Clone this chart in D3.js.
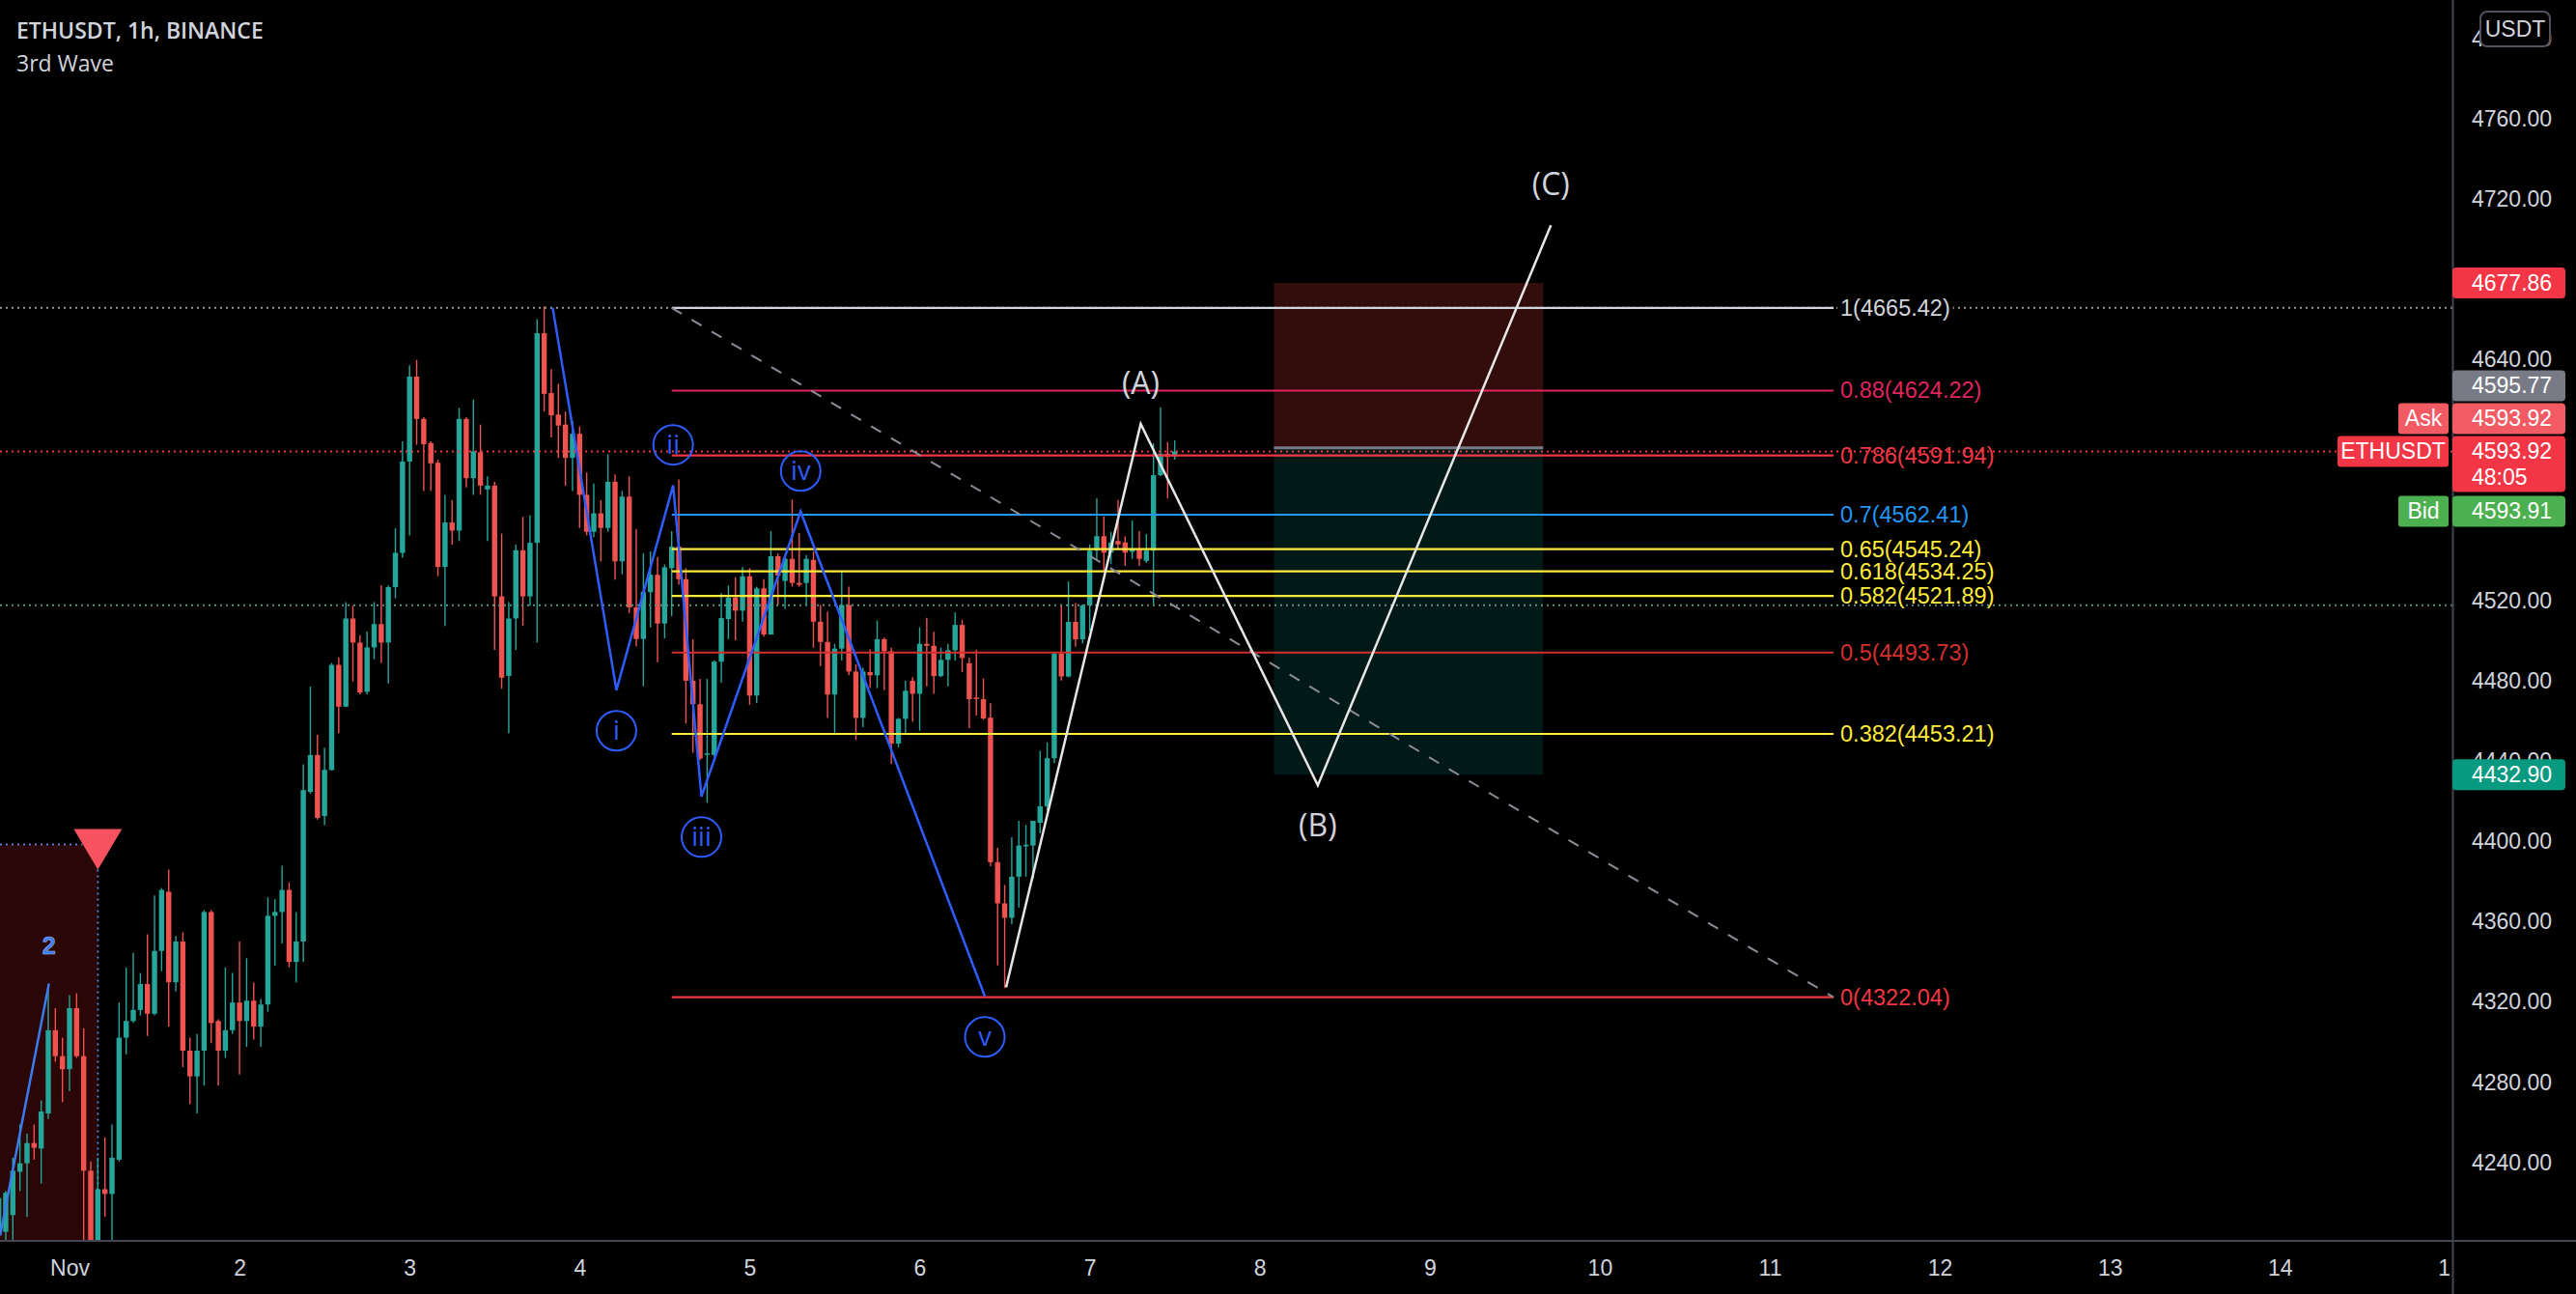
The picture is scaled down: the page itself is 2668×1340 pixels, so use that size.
<!DOCTYPE html>
<html><head><meta charset="utf-8">
<script src="https://cdn.jsdelivr.net/npm/d3@7"></script>
<style>html,body{margin:0;padding:0;background:#000;overflow:hidden}</style>
</head><body>
<svg id="chart" width="2668" height="1340"></svg>
<script>
// ---------- DATA ----------
const firstBar = "2021-10-31T14:00:00Z"; // hourly bars
const opens = [4206,4205.2,4213.5,4235.1,4239.3,4249.4,4246.7,4264.1,4305.6,4292.7,
4286.2,4316.6,4292.7,4235.6,4196,4226.4,4224.0,4241.1,4301.9,4310.2,
4315.7,4328.6,4313.8,4345.1,4374.6,4329.5,4349.8,4295.4,4282.6,4295.4,
4364.5,4310.2,4295.4,4305.6,4319.4,4310.2,4320.3,4307.4,4318.4,4362.6,
4364.5,4375.5,4339.6,4349.8,4424.3,4442.7,4412.3,4435.2,4487.6,4466.8,
4510.7,4498.7,4474.2,4496.3,4507.9,4498.7,4526.3,4543.4,4588.9,4631.2,
4610.1,4598.1,4588.3,4536.4,4558.5,4554.5,4610.1,4580.6,4593.5,4575.0,
4576.9,4521.7,4482.1,4510.7,4544.7,4521.7,4548.4,4652.8,4623.0,4612.3,
4607.3,4590.7,4602.7,4572.3,4553.9,4563.1,4555.8,4578.8,4539.2,4571.4,
4516.2,4500.5,4523.8,4532.5,4508.2,4535.8,4546.5,4530.3,4479.7,4468.0,
4442.8,4442.8,4489.2,4510.4,4521.1,4514.6,4531.7,4472.3,4525.7,4502.7,
4541.7,4529.4,4540.4,4528.4,4528.4,4539.9,4509.1,4499.0,4472.8,4495.7,
4517.4,4484.3,4461.2,4484.0,4482.4,4500.4,4494.4,4448.4,4460.7,4479.7,
4473.2,4498.1,4497.1,4482.0,4490.1,4494.9,4507.5,4488.4,4471.3,4470.5,
4461.3,4389.3,4368.8,4361.6,4382.1,4397.2,4397.6,4408.9,4417.1,4441.1,
4493.1,4481.8,4509.0,4500.3,4517.2,4544.5,4551.7,4543.5,4549.3,4548.6,
4543.9,4545.6,4539.4,4544.5,4582.1,4592.8,4591.5];
const highs = [4233,4225.5,4242.1,4258.6,4254.0,4258.6,4270.6,4328.6,4316.6,4301.9,
4323.1,4324.0,4306.5,4240.2,4242.1,4252.2,4258.6,4319.4,4336.9,4344.2,
4334.1,4353.4,4372.8,4376.4,4385.6,4352.5,4354.4,4301.9,4303.7,4365.4,
4365.4,4311.1,4336.9,4334.1,4349.8,4341.5,4329.5,4321.2,4371.8,4370.9,
4387.5,4379.2,4364.5,4438.1,4476.8,4452.8,4446.4,4488.6,4491.3,4518.9,
4517.1,4502.4,4504.2,4518.9,4527.2,4527.2,4555.7,4599.0,4636.8,4639.5,
4611.0,4599.0,4589.8,4572.3,4569.6,4615.6,4611.0,4619.8,4607.3,4581.5,
4578.8,4553.0,4518.9,4547.5,4561.3,4562.2,4659.8,4666.2,4634.9,4627.6,
4613.8,4609.1,4606.4,4583.4,4577.9,4569.6,4592.6,4582.5,4574.2,4581.5,
4555.2,4543.2,4544.1,4541.3,4537.6,4554.2,4580.0,4535.8,4500.4,4480.6,
4480.6,4489.8,4523.3,4527.1,4531.2,4536.3,4535.8,4526.6,4530.3,4554.2,
4543.2,4542.2,4569.9,4553.3,4542.2,4544.1,4517.4,4514.1,4498.1,4534.0,
4526.6,4487.9,4486.1,4495.3,4509.7,4501.2,4496.2,4461.2,4479.7,4481.5,
4506.3,4511.0,4504.1,4496.2,4498.1,4513.7,4510.0,4491.1,4495.2,4480.8,
4468.5,4396.5,4378.0,4401.7,4409.9,4407.8,4409.9,4444.8,4448.9,4494.2,
4517.8,4529.1,4518.4,4517.8,4547.6,4570.6,4561.6,4553.8,4569.8,4551.7,
4559.5,4554.2,4552.8,4598.0,4615.9,4598.6,4599.4];
const lows = [4198,4201,4201,4225.5,4212.6,4241.1,4229.2,4261.4,4289.9,4269.7,
4275.2,4291.8,4198,4188,4188,4212.6,4199,4240.2,4293.6,4309.2,
4312.9,4302.8,4313.0,4335.0,4307.4,4324.9,4287.2,4268.8,4264.1,4278.0,
4299.1,4278.0,4291.8,4303.7,4283.5,4297.3,4301.0,4297.3,4314.8,4337.8,
4348.8,4336.9,4329.5,4339.6,4423.4,4410.5,4407.7,4435.0,4453.6,4466.5,
4479.4,4472.9,4472.9,4490.4,4488.6,4478.4,4520.8,4541.0,4552.1,4597.2,
4574.2,4574.2,4531.8,4507.0,4547.5,4549.3,4576.0,4572.3,4572.3,4549.3,
4495.0,4475.7,4453.6,4495.0,4507.0,4517.1,4498.7,4613.8,4600.9,4590.7,
4576.9,4574.2,4555.8,4552.1,4551.2,4539.2,4553.9,4530.0,4532.7,4513.4,
4496.9,4477.0,4506.3,4488.9,4500.8,4511.9,4527.5,4458.5,4443.8,4440.1,
4418.9,4441.9,4478.7,4500.4,4499.9,4509.1,4467.7,4468.6,4501.7,4502.7,
4517.4,4515.5,4526.6,4526.6,4517.4,4496.2,4487.0,4461.2,4453.0,4489.8,
4482.4,4450.2,4456.6,4476.0,4476.0,4475.0,4438.2,4446.5,4453.0,4459.4,
4454.8,4476.9,4473.2,4481.5,4476.9,4489.8,4484.0,4456.1,4462.3,4460.3,
4387.3,4337.9,4326.6,4358.5,4366.7,4382.1,4381.1,4403.7,4415.0,4438.7,
4479.8,4481.4,4496.6,4498.3,4504.4,4540.4,4534.3,4537.7,4545.6,4536.9,
4540.4,4536.9,4538.4,4517.8,4581.5,4570.6,4589.8];
const closes = [4222,4224.6,4235.6,4239.3,4249.4,4247.0,4265.1,4305.6,4292.7,4286.2,
4316.6,4292.7,4235.6,4196,4226.4,4224.0,4242.1,4301.9,4310.2,4315.7,
4328.6,4313.8,4345.1,4375.5,4329.5,4349.8,4295.4,4282.6,4295.4,4364.5,
4309.2,4295.4,4305.6,4319.4,4310.2,4320.3,4307.4,4318.4,4362.6,4364.5,
4375.5,4339.6,4349.8,4425.2,4442.7,4411.4,4435.3,4487.6,4466.8,4510.7,
4498.7,4473.8,4496.3,4507.9,4498.7,4526.3,4543.4,4588.9,4631.2,4610.1,
4597.5,4588.0,4536.4,4558.5,4554.5,4610.1,4580.6,4594.0,4576.9,4576.9,
4521.7,4481.2,4510.7,4544.7,4521.7,4548.4,4652.8,4622.6,4611.9,4606.8,
4590.7,4602.7,4572.3,4553.9,4563.1,4555.8,4578.8,4539.2,4571.4,4516.2,
4500.5,4524.0,4532.5,4508.2,4536.2,4546.5,4530.3,4479.7,4468.0,4441.0,
4443.5,4489.2,4510.9,4521.1,4514.6,4531.7,4472.3,4525.7,4502.7,4541.7,
4532.1,4540.4,4528.4,4527.5,4540.4,4509.1,4499.0,4472.8,4495.7,4517.4,
4484.3,4461.2,4484.3,4482.4,4500.4,4494.4,4448.4,4460.7,4474.7,4473.2,
4498.1,4497.1,4482.0,4490.1,4494.9,4507.5,4491.0,4470.5,4470.9,4460.9,
4389.3,4368.8,4361.6,4382.1,4397.6,4398.0,4409.9,4417.1,4441.1,4493.1,
4481.8,4509.0,4500.3,4517.2,4544.5,4551.7,4543.5,4548.6,4547.6,4543.5,
4545.6,4540.4,4544.5,4582.1,4592.8,4591.2,4593.92];

// visible price-scale labels (the ones at 4560/4600/4680 are covered by tags)
const priceTicks = [4240,4280,4320,4360,4400,4440,4480,4520,4640,4720,4760,4800];
const dayTicks = ["2021-11-01","2021-11-02","2021-11-03","2021-11-04","2021-11-05","2021-11-06","2021-11-07","2021-11-08","2021-11-09","2021-11-10","2021-11-11","2021-11-12","2021-11-13","2021-11-14","2021-11-15"];
const dayLabels = ["Nov","2","3","4","5","6","7","8","9","10","11","12","13","14","15"];

const fibRatios = ["1","0.88","0.786","0.7","0.65","0.618","0.582","0.5","0.382","0"];
const fibPrices = [4665.42,4624.22,4591.94,4562.41,4545.24,4534.25,4521.89,4493.73,4453.21,4322.04];
const fibColors = ["#d1d4dc","#e0245e","#f23645","#2196f3","#ffeb3b","#ffeb3b","#ffeb3b","#d32f2f","#ffeb3b","#f23645"];
const fibStartHour = 85, fibEndHour = 249; // hours after Nov 1 00:00

// Elliott waves (hour offsets from Nov 1 00:00, price)
const minorHours  = [68.2, 77.2, 85.2, 89.2, 103.2, 129.2];
const minorPrices = [4665.4, 4475, 4577, 4422, 4564, 4322.5];
const minorLabels = ["", "i", "ii", "iii", "iv", "v"];
const minorSide   = [0, 1, -1, 1, -1, 1]; // 1 below, -1 above

const abcHours  = [132.2, 151.2, 176.2, 209.1];
const abcPrices = [4327, 4607.6, 4427.6, 4706.6];
const abcLabels = ["", "(A)", "(B)", "(C)"];
const abcSide   = [0, -1, 1, -1];

const w2Hours = [-9.8, -2.9], w2Prices = [4203.3, 4328.9];

// position tool (short)
const posStartHour = 170, posEndHour = 208;
const posEntry = 4595.77, posStop = 4677.86, posTarget = 4432.90;

// signal box
const sigHour = 4, sigPrice = 4398.1;

const lastPrice = 4593.92, bidPrice = 4593.91, prevLine = 4517.3;

// ---------- SCALES ----------
const W = 2668, H = 1340, plotR = 2540, plotB = 1284.5;
const base = Date.parse("2021-11-01T00:00:00Z");
const hd = h => new Date(base + h * 3600e3);
const x = d3.scaleUtc().domain([hd(-9.8127), hd(336.35)]).range([0, plotR]);
const y = d3.scaleLinear().domain([4200.9, 4818.8]).range([plotB, 0]);
const bars = opens.map((o, i) => ({
  t: new Date(Date.parse(firstBar) + i * 3600e3), o, h: highs[i], l: lows[i], c: closes[i]
}));

const svg = d3.select("#chart");
svg.append("rect").attr("width", W).attr("height", H).attr("fill", "#000");
const defs = svg.append("defs");
defs.append("clipPath").attr("id", "plot").append("rect").attr("width", plotR).attr("height", plotB);
defs.append("clipPath").attr("id", "xlab").append("rect").attr("width", 2537).attr("height", H);

const g = svg.append("g").attr("clip-path", "url(#plot)");
const font = "'Liberation Sans', Arial, sans-serif";

// signal box
g.append("rect").attr("x", 0).attr("y", y(sigPrice))
  .attr("width", x(hd(sigHour))).attr("height", plotB - y(sigPrice)).attr("fill", "#2a0606");
g.append("line").attr("x1", 0).attr("x2", x(hd(sigHour)) - 16).attr("y1", y(sigPrice)).attr("y2", y(sigPrice))
  .attr("stroke", "#5b7fd6").attr("stroke-width", 2).attr("stroke-dasharray", "2,4");
g.append("line").attr("x1", x(hd(sigHour))).attr("x2", x(hd(sigHour))).attr("y1", y(sigPrice) + 26).attr("y2", plotB)
  .attr("stroke", "#5b7fd6").attr("stroke-width", 2).attr("stroke-dasharray", "2,4");

// position boxes
const px0 = x(hd(posStartHour)), px1 = x(hd(posEndHour));
g.append("rect").attr("x", px0).attr("width", px1 - px0).attr("y", y(posStop)).attr("height", y(posEntry) - y(posStop)).attr("fill", "#330d0b");
g.append("rect").attr("x", px0).attr("width", px1 - px0).attr("y", y(posEntry)).attr("height", y(posTarget) - y(posEntry)).attr("fill", "#021a17");
g.append("line").attr("x1", px0).attr("x2", px1).attr("y1", y(posEntry)).attr("y2", y(posEntry)).attr("stroke", "#787b86").attr("stroke-width", 3);

// candles
const up = "#26a69a", dn = "#ef5350";
const cg = g.append("g");
cg.selectAll("line").data(bars).join("line")
  .attr("x1", d => x(d.t)).attr("x2", d => x(d.t)).attr("y1", d => y(d.h)).attr("y2", d => y(d.l))
  .attr("stroke", d => d.c >= d.o ? up : dn).attr("stroke-width", 1.4);
cg.selectAll("rect").data(bars).join("rect")
  .attr("x", d => x(d.t) - 2.7).attr("width", 5.4)
  .attr("y", d => y(Math.max(d.o, d.c)))
  .attr("height", d => Math.max(1.5, Math.abs(y(d.o) - y(d.c))))
  .attr("fill", d => d.c >= d.o ? up : dn);

// dotted horizontal lines
const hline = (p, col) => g.append("line").attr("x1", 0).attr("x2", plotR).attr("y1", y(p)).attr("y2", y(p))
  .attr("stroke", col).attr("stroke-width", 2).attr("stroke-dasharray", "2,4");
hline(fibPrices[0], "#9598a1");
hline(prevLine, "#5e8f80");
hline(lastPrice, "#f23645");

// fib
const fx0 = x(hd(fibStartHour)), fx1 = x(hd(fibEndHour));
fibPrices.forEach((p, i) => {
  g.append("line").attr("x1", fx0).attr("x2", fx1).attr("y1", y(p)).attr("y2", y(p))
    .attr("stroke", fibColors[i]).attr("stroke-width", 2.2);
  const t = g.append("text").attr("x", fx1 + 7).attr("y", y(p) + 8)
    .attr("fill", fibColors[i]).attr("font-family", font).attr("font-size", 23.5)
    .text(`${fibRatios[i]}(${p.toFixed(2)})`);
  if (i === 0) {
    const bb = t.node().getBBox();
    g.insert("rect", () => t.node()).attr("x", bb.x - 3).attr("y", bb.y).attr("width", bb.width + 6)
      .attr("height", bb.height).attr("fill", "#000");
  }
});
g.append("line").attr("x1", fx0).attr("y1", y(fibPrices[0])).attr("x2", fx1).attr("y2", y(fibPrices[9]))
  .attr("stroke", "#8a8d96").attr("stroke-width", 2).attr("stroke-dasharray", "12,12");

// waves
const line = d3.line().x(d => x(hd(d[0]))).y(d => y(d[1]));
const blue = "#2f5cff";
g.append("path").attr("d", line(w2Hours.map((h, i) => [h, w2Prices[i]])))
  .attr("fill", "none").attr("stroke", "#3a7bf0").attr("stroke-width", 2.5);
g.append("text").attr("x", x(hd(w2Hours[1]))).attr("y", y(w2Prices[1]) - 30)
  .attr("text-anchor", "middle").attr("fill", "#3a7bf0").attr("stroke", "#9fb9ee").attr("stroke-width", 0.6)
  .attr("font-family", font).attr("font-weight", "bold").attr("font-size", 25).text("2");

g.append("path").attr("d", line(minorHours.map((h, i) => [h, minorPrices[i]])))
  .attr("fill", "none").attr("stroke", blue).attr("stroke-width", 2.5);
minorHours.forEach((h, i) => {
  if (!minorLabels[i]) return;
  const cx = x(hd(h)), cy = y(minorPrices[i]) + minorSide[i] * 42;
  g.append("circle").attr("cx", cx).attr("cy", cy).attr("r", 20.5)
    .attr("fill", "none").attr("stroke", blue).attr("stroke-width", 2);
  g.append("text").attr("x", cx).attr("y", cy + 9).attr("text-anchor", "middle")
    .attr("fill", blue).attr("font-family", "'Open Sans', sans-serif").attr("font-size", 27).text(minorLabels[i]);
});

g.append("path").attr("d", line(abcHours.map((h, i) => [h, abcPrices[i]])))
  .attr("fill", "none").attr("stroke", "#e6e6e6").attr("stroke-width", 2.5);
abcHours.forEach((h, i) => {
  if (!abcLabels[i]) return;
  const cx = x(hd(h)), cy = y(abcPrices[i]) + abcSide[i] * 42;
  g.append("text").attr("x", cx).attr("y", cy + 11).attr("text-anchor", "middle")
    .attr("fill", "#d1d4dc").attr("font-family", "'Open Sans', sans-serif").attr("font-size", 32).text(abcLabels[i]);
});

// signal triangle
const tx = x(hd(sigHour)), ty = y(sigPrice) + 26;
g.append("path").attr("d", `M${tx - 25},${ty - 42}L${tx + 25},${ty - 42}L${tx},${ty}Z`).attr("fill", "#f7525f");

// ---------- AXES ----------
svg.append("line").attr("x1", 0).attr("x2", W).attr("y1", plotB + 0.5).attr("y2", plotB + 0.5).attr("stroke", "#434651").attr("stroke-width", 2);
svg.append("line").attr("x1", plotR + 0.5).attr("x2", plotR + 0.5).attr("y1", 0).attr("y2", H).attr("stroke", "#434651").attr("stroke-width", 2);

const xAxis = svg.append("g").attr("clip-path", "url(#xlab)").attr("transform", `translate(0,${plotB})`)
  .call(d3.axisBottom(x).tickValues(dayTicks.map(d => new Date(d + "T00:00:00Z"))).tickSize(0).tickPadding(0)
    .tickFormat((d, i) => dayLabels[i]));
xAxis.select(".domain").remove();
xAxis.selectAll("text").attr("y", 36).attr("dy", 0).attr("fill", "#d1d4dc").attr("font-size", 23).attr("font-family", font);

const yAxis = svg.append("g").attr("transform", `translate(${plotR},0)`)
  .call(d3.axisRight(y).tickValues(priceTicks).tickSize(0).tickPadding(20).tickFormat(d3.format(".2f")));
yAxis.select(".domain").remove();
yAxis.selectAll("text").attr("fill", "#d1d4dc").attr("font-size", 23).attr("font-family", font).attr("dy", "0.35em");

// badges
function badge(yTop, h, col, lines) {
  svg.append("rect").attr("x", plotR).attr("y", yTop).attr("width", 117).attr("height", h).attr("rx", 4).attr("fill", col);
  lines.forEach((t, i) => svg.append("text").attr("x", 2560).attr("y", yTop + 24 + i * 27)
    .attr("fill", "#fff").attr("font-family", font).attr("font-size", 23).text(t));
}
function sideTag(yTop, w, col, t) {
  svg.append("rect").attr("x", plotR - 4 - w).attr("y", yTop).attr("width", w).attr("height", 32).attr("rx", 3).attr("fill", col);
  svg.append("text").attr("x", plotR - 4 - w / 2).attr("y", yTop + 24).attr("text-anchor", "middle")
    .attr("fill", "#fff").attr("font-family", font).attr("font-size", 23).text(t);
}
badge(y(posStop) - 16, 32, "#f23645", [posStop.toFixed(2)]);
const pY = y(lastPrice);
badge(pY - 84, 32, "#787b86", [posEntry.toFixed(2)]);
badge(pY - 50, 32, "#f25a64", [lastPrice.toFixed(2)]);
badge(pY - 16, 58, "#f23645", [lastPrice.toFixed(2), "48:05"]);
badge(pY + 46, 32, "#4caf50", [bidPrice.toFixed(2)]);
badge(y(posTarget) - 16, 32, "#089981", [posTarget.toFixed(2)]);
sideTag(pY - 50, 52, "#f25a64", "Ask");
sideTag(pY - 16, 115, "#f23645", "ETHUSDT");
sideTag(pY + 46, 52, "#4caf50", "Bid");

// currency badge
svg.append("rect").attr("x", 2569).attr("y", 12).attr("width", 72).attr("height", 36).attr("rx", 7)
  .attr("fill", "#000").attr("stroke", "#50535e").attr("stroke-width", 2);
svg.append("text").attr("x", 2605).attr("y", 38).attr("text-anchor", "middle").attr("fill", "#d1d4dc")
  .attr("font-family", font).attr("font-size", 23).text("USDT");

// title
svg.append("text").attr("x", 17).attr("y", 40).attr("fill", "#d1d4dc").attr("font-family", "'Open Sans', sans-serif")
  .attr("font-weight", 600).attr("font-size", 23).text("ETHUSDT, 1h, BINANCE");
svg.append("text").attr("x", 17).attr("y", 74).attr("fill", "#d1d4dc").attr("font-family", "'Open Sans', sans-serif")
  .attr("font-size", 23).text("3rd Wave");
</script>
</body></html>
